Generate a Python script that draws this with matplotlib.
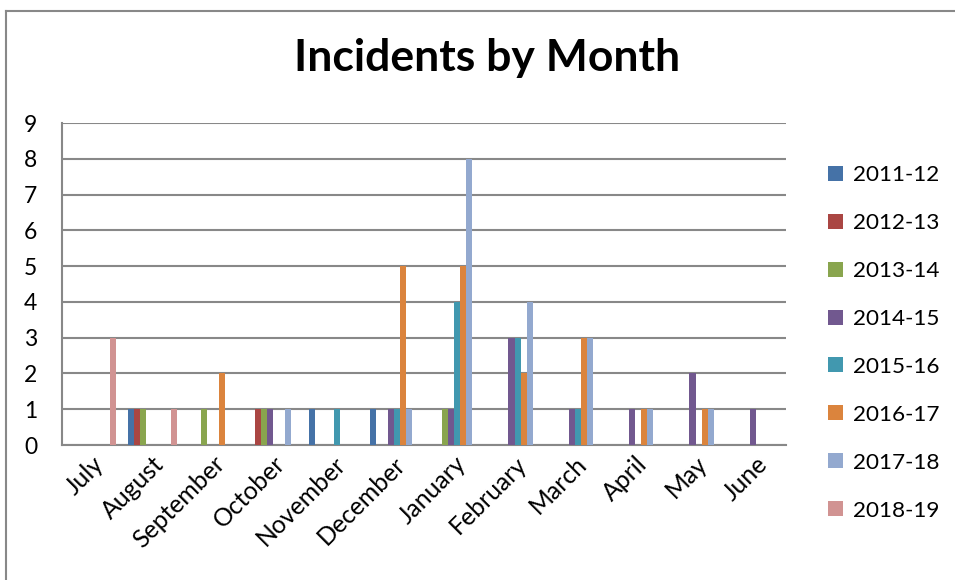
import matplotlib
matplotlib.use("Agg")
import matplotlib.pyplot as plt
import numpy as np
from matplotlib.lines import Line2D

months = ["July", "August", "September", "October", "November", "December",
          "January", "February", "March", "April", "May", "June"]
seasons = ["2011-12", "2012-13", "2013-14", "2014-15",
           "2015-16", "2016-17", "2017-18", "2018-19"]

s2011_12 = [0, 1, 0, 0, 1, 1, 0, 0, 0, 0, 0, 0]
s2012_13 = [0, 1, 0, 1, 0, 0, 0, 0, 0, 0, 0, 0]
s2013_14 = [0, 1, 1, 1, 0, 0, 1, 0, 0, 0, 0, 0]
s2014_15 = [0, 0, 0, 1, 0, 1, 1, 3, 1, 1, 2, 1]
s2015_16 = [0, 0, 0, 0, 1, 1, 4, 3, 1, 0, 0, 0]
s2016_17 = [0, 0, 2, 0, 0, 5, 5, 2, 3, 1, 1, 0]
s2017_18 = [0, 0, 0, 1, 0, 1, 8, 4, 3, 1, 1, 0]
s2018_19 = [3, 1, 0, 0, 0, 0, 0, 0, 0, 0, 0, 0]

series = [s2011_12, s2012_13, s2013_14, s2014_15, s2015_16, s2016_17, s2017_18, s2018_19]
colors = ["#4572A7", "#AA4643", "#89A54E", "#71588F",
          "#4198AF", "#DB843D", "#93A9CF", "#D19392"]

plt.rcParams['font.family'] = ['Lato', 'DejaVu Sans']

fig = plt.figure(figsize=(9.55, 5.8), dpi=100)
ax = fig.add_axes([62/955, 1-445/580, (786-62)/955, (445-123)/580])

x = np.arange(len(months))
bw = 0.1
for i, (vals, c, lab) in enumerate(zip(series, colors, seasons)):
    ax.bar(x + (i - 3.5) * bw, vals, width=bw, color=c, label=lab, zorder=3)

ax.set_xlim(-0.5, len(months) - 0.5)
ax.set_ylim(0, 9)
ax.set_yticks(range(0, 10))
ax.yaxis.grid(True, color="#888888", linewidth=1.5, zorder=0)
ax.set_axisbelow(True)
ax.tick_params(axis='y', length=0, labelsize=16.5, pad=18)
ax.set_xticks(x)
ax.set_xticklabels(months, rotation=45, ha='right', rotation_mode='anchor')
ax.tick_params(axis='x', length=0, labelsize=17.8, pad=5)
for sp in ['top', 'right']:
    ax.spines[sp].set_visible(False)
for sp in ['left', 'bottom']:
    ax.spines[sp].set_color("#888888")
    ax.spines[sp].set_linewidth(1.5)

fig.text(487/955, 1-58/580, "Incidents by Month", ha='center', va='center',
         fontsize=32, fontweight='bold')

leg = ax.legend(loc='upper left', bbox_to_anchor=(808/955, 1-145/580),
                bbox_transform=fig.transFigure, frameon=False,
                fontsize=16.2, handlelength=0.65, handleheight=0.65,
                handletextpad=0.45, labelspacing=1.24)

# chart border
fig.add_artist(Line2D([6/955, 6/955], [0, 1-11/580], color="#888888", lw=1.5,
                      transform=fig.transFigure))
fig.add_artist(Line2D([6/955, 1], [1-11/580, 1-11/580], color="#888888", lw=1.5,
                      transform=fig.transFigure))

fig.savefig("out.png", dpi=100)
